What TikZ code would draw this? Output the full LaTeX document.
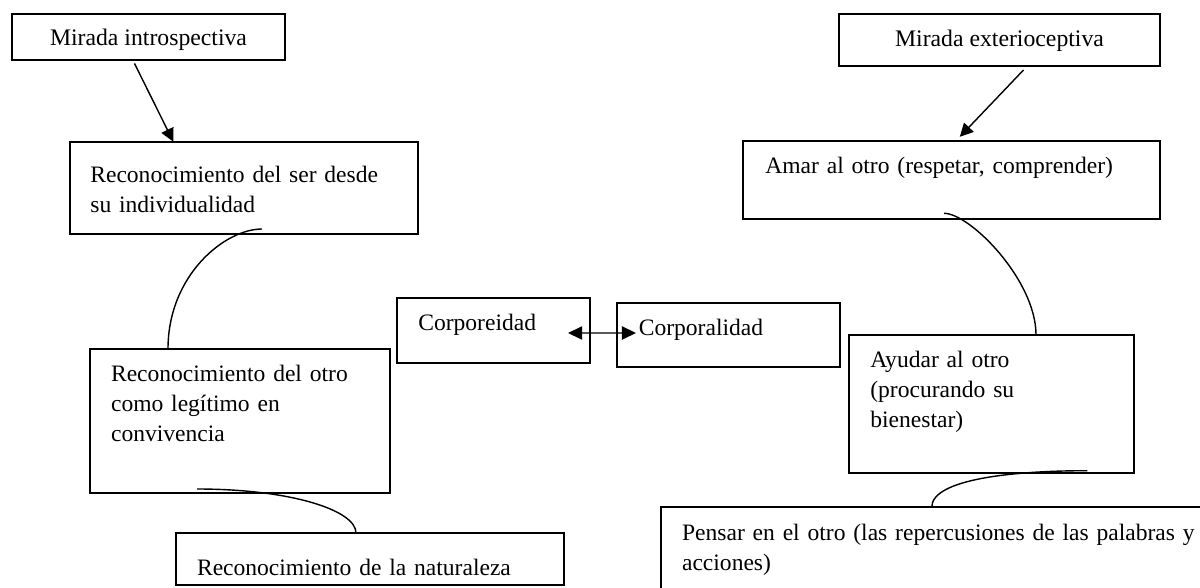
\documentclass[tikz,border=0pt]{standalone}
\usepackage{fontspec}
\setmainfont{Liberation Serif}
\usetikzlibrary{arrows.meta,calc}

\tikzset{
  caja/.style={draw, line width=1.1pt, anchor=north west, inner sep=0pt, outer sep=0pt},
  texto/.style={anchor=base west, inner sep=0pt, align=left, text width=10cm,
    font=\fontsize{13.4}{17.07}\selectfont},
  titulo/.style={anchor=base, inner sep=0pt, font=\fontsize{13.5}{17.07}\selectfont},
  flecha/.style={line width=0.8pt, -{Triangle[length=7.5pt,width=7.5pt]}},
  lazo/.style={line width=0.8pt},
}

\begin{document}
\begin{tikzpicture}
        \useasboundingbox (0,0) rectangle (24,-11.76);

        % Boxes
        \node[caja, minimum width=5.46cm, minimum height=0.92cm] (intro) at (0.24,-0.28) {};
        \node[caja, minimum width=6.96cm, minimum height=1.846cm] (ser) at (1.40,-2.834) {};
        \node[caja, minimum width=6.00cm, minimum height=2.88cm] (otro) at (1.80,-6.98) {};
        \node[caja, minimum width=7.76cm, minimum height=1.04cm] (natu) at (3.52,-10.66) {};
        \node[caja, minimum width=3.86cm, minimum height=1.30cm] (corpo) at (7.94,-5.96) {};
        \node[caja, minimum width=4.46cm, minimum height=1.28cm] (corpa) at (12.34,-6.053) {};
        \node[caja, minimum width=6.42cm, minimum height=1.04cm] (exter) at (16.78,-0.28) {};
        \node[caja, minimum width=8.34cm, minimum height=1.55cm] (amar) at (14.866,-2.826) {};
        \node[caja, minimum width=5.70cm, minimum height=2.76cm] (ayudar) at (16.98,-6.70) {};
        \node[caja, minimum width=11.2cm, minimum height=1.9cm] (pensar) at (13.22,-10.146) {};

        % Texts
        \node[titulo] (intro-t) at (2.97,-0.92) {Mirada introspectiva};
        \node[titulo] (exter-t) at (19.99,-0.94) {Mirada exterioceptiva};
        \node[texto] (ser-t) at (1.80,-3.66) {Reconocimiento del ser desde\\su individualidad};
        \node[texto] (otro-t) at (2.214,-7.634) {Reconocimiento del otro\\como legítimo en\\convivencia};
        \node[texto] (natu-t) at (3.934,-11.50) {Reconocimiento de la naturaleza};
        \node[texto] (corpo-t) at (8.36,-6.61) {Corporeidad};
        \node[texto] (corpa-t) at (12.77,-6.70) {Corporalidad};
        \node[texto] (amar-t) at (15.30,-3.48) {Amar al otro (respetar, comprender)};
        \node[texto] (ayudar-t) at (17.40,-7.354) {Ayudar al otro\\(procurando su\\bienestar)};
        \node[texto, text width=10.3cm] (pensar-t) at (13.634,-10.80) {Pensar en el otro (las repercusiones de las palabras y\\acciones)};

        % Arrows
        \draw[flecha] ($(intro.south west)+(2.45,-0.07)$) -- ($(ser.north west)+(2.066,0)$);
        \draw[flecha] ($(exter.south west)+(3.69,-0.08)$) -- ($(amar.north west)+(4.33,0.09)$);
        \draw[line width=0.8pt, {Triangle[length=8pt,width=7.5pt]}-{Triangle[length=8pt,width=7.5pt]}]
          ($(corpo.north east)+(-0.44,-0.70)$) -- ($(corpa.north west)+(0.38,-0.607)$);

        % Links
        \draw[lazo] ($(ser.south west)+(3.84,0.10)$) .. controls +(-0.74,0) and +(0,1.48) .. ($(otro.north west)+(1.56,0)$);
        \draw[lazo] ($(otro.south west)+(2.14,0.08)$) .. controls +(1.86,0) and +(0,0.46) .. ($(natu.north west)+(3.60,0)$);
        \draw[lazo] ($(amar.south west)+(4.014,0.11)$) .. controls +(0.52,0) and +(0,1.1) .. ($(ayudar.north west)+(3.74,0)$);
        \draw[lazo] ($(ayudar.south west)+(4.766,0.046)$) .. controls +(-1.45,0) and +(0,0.57) .. ($(pensar.north west)+(5.414,0)$);
\end{tikzpicture}
\end{document}
